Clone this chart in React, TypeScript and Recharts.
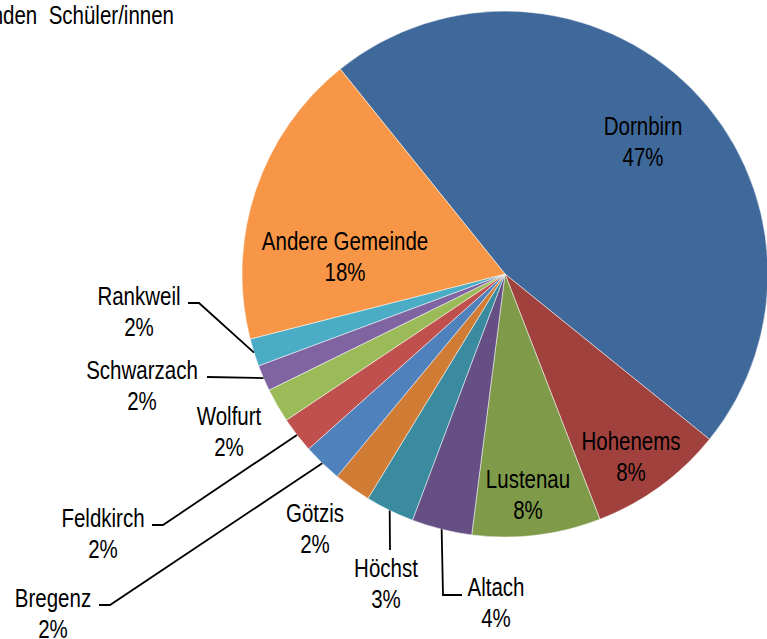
import { PieChart, Pie, Cell } from 'recharts'

const names = ['Dornbirn', 'Hohenems', 'Lustenau', 'Altach', 'Höchst', 'Götzis', 'Bregenz', 'Feldkirch', 'Wolfurt', 'Schwarzach', 'Rankweil', 'Andere Gemeinde']
const shares = [46.6, 8.3, 7.9, 3.7, 3.0, 2.3, 2.4, 2.2, 2.1, 1.6, 1.7, 18.2]
const colors = ['#40699b', '#a0413e', '#7f9b4a', '#654f84', '#3a8aa0', '#d07c35', '#4f81bd', '#c0504d', '#9bbb59', '#8064a2', '#4bacc6', '#f79646']

const data = names.map((name, i) => ({ name, value: shares[i] }))

// label placement relative to the pie centre (x of text centre, y of first baseline)
const labelPos: [number, number][] = [
  [138, -139], [126, 176], [23, 214], [-9, 322], [-119, 303], [-190, 248],
  [-452, 333], [-402, 253], [-276, 151], [-363, 105], [-366, 31], [-160, -24],
]
// leader lines, relative to centre, from the label towards the slice edge
const leaders: ([number, number][] | null)[] = [
  null, null, null,
  [[-43, 321], [-62, 321]],
  [[-115, 276]],
  null,
  [[-406, 331], [-395, 331]],
  [[-353, 251], [-342, 251]],
  null,
  [[-298, 103]],
  [[-317, 29], [-306, 29]],
  null,
]

const FONT = "'Liberation Sans', Arial, sans-serif"
const SQUEEZE = 0.82
const RADIAN = Math.PI / 180

const renderLabel = (p: any) => {
  const { cx, cy, midAngle, outerRadius, percent, index } = p
  const [dx, dy] = labelPos[index]
  const x = cx + dx
  const y = cy + dy
  const pts = leaders[index]
  let line = null
  if (pts) {
    const ex = cx + outerRadius * Math.cos(-midAngle * RADIAN)
    const ey = cy + outerRadius * Math.sin(-midAngle * RADIAN)
    const d = pts.map(([a, b]) => `${cx + a},${cy + b}`).concat(`${ex},${ey}`).join(' ')
    line = <polyline points={d} fill='none' stroke='#000' strokeWidth={1.8} />
  }
  return (
    <g>
      {line}
      <text x={0} y={0} transform={`translate(${x} ${y}) scale(${SQUEEZE} 1)`} textAnchor='middle' fontFamily={FONT} fontSize={25} fill='#000'>
        <tspan x={0}>{names[index]}</tspan>
        <tspan x={0} dy={31}>{Math.round(percent * 100)}%</tspan>
      </text>
    </g>
  )
}

const App = () => {
  return (
    <div style={{ position: 'absolute', left: 0, top: 0, background: '#fff' }}>
      <PieChart width={767} height={639} margin={{ top: 0, right: 0, bottom: 0, left: 0 }}>
        <text x={0} y={0} transform={`translate(174 24) scale(${SQUEEZE} 1)`} textAnchor='end' fontFamily={FONT} fontSize={25} fill='#000' style={{ whiteSpace: 'pre' }}>
          Wohngemeinden  Schüler/innen
        </text>
        <Pie
          data={data}
          dataKey='value'
          nameKey='name'
          cx={505}
          cy={274}
          outerRadius={263}
          startAngle={128.8}
          endAngle={-231.2}
          stroke='#ffffff'
          strokeWidth={0.5}
          label={renderLabel}
          labelLine={false}
          isAnimationActive={false}
        >
          {data.map((d, i) => (
            <Cell key={d.name} fill={colors[i]} />
          ))}
        </Pie>
      </PieChart>
    </div>
  )
}

export default App
